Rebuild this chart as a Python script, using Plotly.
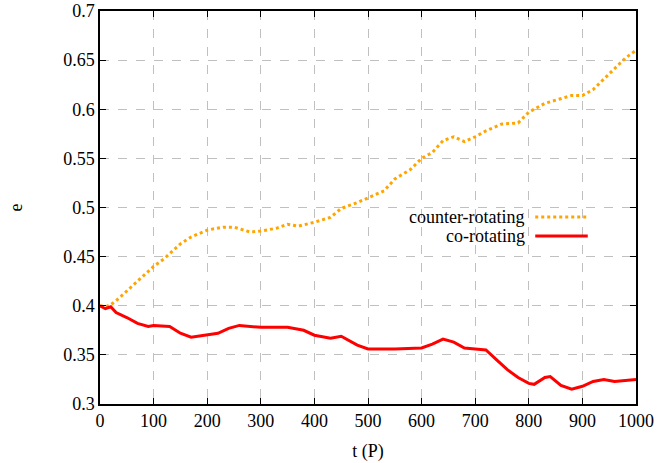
import plotly.graph_objects as go

t_counter = [0, 10, 20, 30, 50, 70, 100, 120, 150, 170, 200, 230, 250, 280, 300, 330, 350, 370,
             400, 430, 450, 480, 500, 530, 550, 580, 600, 620, 640, 660, 680, 700, 720, 750,
             780, 800, 830, 860, 880, 900, 920, 950, 980, 1000]
e_counter = [0.400, 0.399, 0.401, 0.405, 0.415, 0.425, 0.440, 0.448, 0.463, 0.470, 0.477, 0.480,
             0.480, 0.475, 0.476, 0.479, 0.483, 0.481, 0.485, 0.490, 0.499, 0.505, 0.510, 0.517,
             0.529, 0.539, 0.550, 0.556, 0.568, 0.572, 0.567, 0.572, 0.578, 0.585, 0.586, 0.597,
             0.606, 0.611, 0.614, 0.614, 0.620, 0.636, 0.652, 0.660]

t_co = [0, 10, 20, 30, 50, 70, 90, 100, 130, 150, 170, 200, 220, 240, 260, 300, 350, 380, 400,
        430, 450, 480, 500, 550, 600, 620, 640, 660, 680, 700, 720, 740, 760, 780, 800, 810,
        830, 840, 860, 880, 900, 920, 940, 960, 1000]
e_co = [0.400, 0.397, 0.399, 0.393, 0.388, 0.382, 0.379, 0.380, 0.379, 0.372, 0.368, 0.370,
        0.372, 0.377, 0.380, 0.378, 0.378, 0.375, 0.370, 0.367, 0.369, 0.360, 0.356, 0.356,
        0.357, 0.361, 0.366, 0.363, 0.357, 0.356, 0.355, 0.345, 0.335, 0.327, 0.321, 0.320,
        0.327, 0.328, 0.319, 0.315, 0.318, 0.323, 0.325, 0.323, 0.325]

x_ticks = [0, 100, 200, 300, 400, 500, 600, 700, 800, 900, 1000]
y_ticks = [0.3, 0.35, 0.4, 0.45, 0.5, 0.55, 0.6, 0.65, 0.7]
y_tick_text = ["0.3", "0.35", "0.4", "0.45", "0.5", "0.55", "0.6", "0.65", "0.7"]

ORANGE = "#FFA500"
RED = "#FF0000"
FONT = "Liberation Serif, Times New Roman, DejaVu Serif, serif"
FS = 18

fig = go.Figure()
fig.add_trace(go.Scatter(x=t_counter, y=e_counter, mode="lines",
                         line=dict(color=ORANGE, width=3, dash="dot"), showlegend=False))
fig.add_trace(go.Scatter(x=t_co, y=e_co, mode="lines",
                         line=dict(color=RED, width=3), showlegend=False))

axis_common = dict(showline=True, linecolor="black", linewidth=1.5, mirror="ticks",
                   ticks="inside", ticklen=6, tickcolor="black", showgrid=True,
                   gridcolor="#c0c0c0", griddash="dash", gridwidth=1, zeroline=False,
                   automargin=False,
                   tickfont=dict(family=FONT, size=FS, color="black"))

fig.update_xaxes(range=[0, 1000], tickvals=x_ticks,
                 title=dict(text="t (P)", font=dict(family=FONT, size=FS, color="black"), standoff=14),
                 **axis_common)
fig.update_yaxes(range=[0.3, 0.7], tickvals=y_ticks, ticktext=y_tick_text,
                 title=dict(text="e", font=dict(family=FONT, size=FS, color="black"), standoff=36),
                 **axis_common)

# legend (text left of sample line, gnuplot style)
legend_items = [("counter-rotating", ORANGE, "dot", 0.476), ("co-rotating", RED, "solid", 0.4275)]
for label, col, dash, yp in legend_items:
    fig.add_annotation(xref="paper", yref="paper", x=0.797, y=yp, text=label, showarrow=False,
                       xanchor="right", yanchor="middle",
                       font=dict(family=FONT, size=FS, color="black"))
    fig.add_shape(type="line", xref="paper", yref="paper", x0=0.812, x1=0.91, y0=yp, y1=yp,
                  line=dict(color=col, width=3, dash=dash))

fig.update_layout(width=658, height=463, margin=dict(l=100, r=22, t=11, b=59),
                  plot_bgcolor="white", paper_bgcolor="white",
                  font=dict(family=FONT, size=FS, color="black"))

fig.write_html("out.html", config={"displayModeBar": False},
               post_script="document.body.style.margin='0';document.body.style.padding='0';")
